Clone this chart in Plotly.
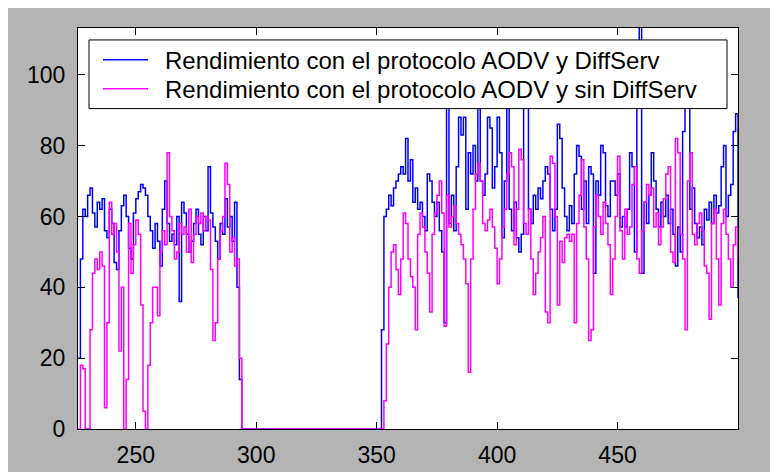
import plotly.graph_objects as go

x_start = 226
x_end = 500

aodv_diffserv = [
    20, 48, 62, 60, 66, 68, 61, 57, 64, 62, 65, 56, 54, 62, 58, 47, 45, 56, 63, 66,
    60, 51, 48, 61, 65, 67, 69, 68, 66, 60, 56, 51, 58, 53, 46, 62,
    70, 58, 53, 55, 52, 60, 36, 64, 61, 55, 50, 53, 58, 62, 55, 52, 60, 56, 74, 61,
    57, 53, 48, 58, 55, 65, 57, 60, 53, 64, 40, 14, 0,
    0, 0, 0, 0, 0, 0, 0, 0, 0, 0, 0, 0, 0, 0, 0, 0, 0, 0, 0, 0,
    0, 0, 0, 0, 0, 0, 0, 0, 0, 0, 0, 0, 0, 0, 0, 0, 0, 0, 0, 0,
    0, 0, 0, 0, 0, 0, 0, 0, 0, 0, 0, 0, 0, 0, 0, 0, 0,
    28, 60, 62, 66, 63, 68, 70, 72, 74, 72, 82, 70, 76, 64, 68, 62, 64, 60, 56, 72,
    70, 64, 60, 64, 56, 50, 30, 96, 58, 66, 56, 74, 88, 83, 88, 62,
    78, 72, 80, 70, 96, 70, 66, 72, 88, 85, 68, 74, 88, 78, 54, 70, 96, 62, 56, 64,
    54, 50, 55, 96, 94, 62, 58, 66, 62, 68, 65, 70, 74, 72, 62, 56, 62, 86,
    82, 68, 60, 56, 63, 58, 72, 80, 77, 62, 70, 58, 74, 72, 44, 70, 66, 80, 78, 63,
    60, 70, 70, 66, 72, 57, 60, 57, 62, 78, 74, 50, 96, 120, 44, 64, 58, 66, 78,
    70, 62, 57, 64, 60, 66, 58, 62, 55, 46, 57, 50, 84, 92, 97, 62, 68, 58, 54, 57,
    52, 62, 59, 64, 58, 66, 61, 63, 74, 80, 60, 66, 69, 84, 89, 37,
]

aodv_sin_diffserv = [
    0, 18, 17, 0, 0, 28, 44, 48, 45, 50, 46, 6, 30, 64, 55, 58, 50, 22, 40, 0,
    14, 58, 44, 52, 59, 55, 35, 5, 0, 18, 30, 40, 40, 32, 50, 56,
    52, 78, 60, 56, 48, 50, 58, 55, 57, 50, 62, 47, 55, 60, 58, 61, 56, 60, 59, 45,
    25, 30, 48, 56, 60, 75, 69, 50, 54, 46, 48, 20, 0,
    0, 0, 0, 0, 0, 0, 0, 0, 0, 0, 0, 0, 0, 0, 0, 0, 0, 0, 0, 0,
    0, 0, 0, 0, 0, 0, 0, 0, 0, 0, 0, 0, 0, 0, 0, 0, 0, 0, 0, 0,
    0, 0, 0, 0, 0, 0, 0, 0, 0, 0, 0, 0, 0, 0, 0, 0, 0,
    0, 8, 24, 40, 50, 52, 45, 38, 48, 61, 58, 48, 43, 40, 28, 55, 61, 57, 50, 44,
    33, 55, 61, 66, 70, 61, 29, 66, 57, 60, 63, 58, 55, 52, 48, 41,
    16, 48, 62, 72, 75, 70, 58, 56, 59, 62, 57, 51, 41, 48, 57, 62, 72, 78, 74, 52,
    62, 79, 76, 58, 55, 62, 48, 38, 44, 50, 54, 60, 33, 30, 77, 75, 60, 35, 53,
    47, 54, 55, 53, 55, 30, 58, 66, 76, 57, 48, 25, 28, 57, 66, 60, 55, 64, 58, 52,
    38, 48, 60, 77, 56, 48, 62, 55, 57, 69, 74, 48, 44, 56, 64, 69, 66, 68,
    57, 61, 52, 57, 65, 72, 74, 50, 47, 82, 78, 55, 48, 28, 70, 78, 55, 52, 58, 61,
    56, 46, 44, 31, 58, 62, 48, 35, 58, 62, 55, 48, 40, 52, 57, 48,
]

series_names = [
    "Rendimiento con el protocolo AODV y DiffServ",
    "Rendimiento con el protocolo AODV y sin DiffServ",
]
series_colors = ["#0000ff", "#ff00ff"]

x_ticks = [250, 300, 350, 400, 450]
y_ticks = [0, 20, 40, 60, 80, 100]

x_values = list(range(x_start, x_end + 1))

# the page places the figure 8px in from the top-left corner of the window
OFF = 8
W, H = 778, 472
L, R, T, B = 78 - OFF, W - (738 - OFF), 28 - OFF, H - (431 - OFF)
pw, ph = W - L - R, H - T - B


def px(xs):
    return (xs - OFF - L) / pw


def py(ys):
    return (H - B - (ys - OFF)) / ph


FONT = "Liberation Sans, Arial, sans-serif"

fig = go.Figure()
for name, vals, col in [
    (series_names[0], aodv_diffserv, series_colors[0]),
    (series_names[1], aodv_sin_diffserv, series_colors[1]),
]:
    fig.add_trace(go.Scatter(
        x=x_values, y=vals, mode="lines", name=name,
        line=dict(color=col, width=1.5, shape="hv"),
        showlegend=False,
    ))

shapes = [
    dict(type="rect", xref="paper", yref="paper", layer="above",
         x0=px(89), x1=px(727), y0=py(109), y1=py(40),
         fillcolor="white", line=dict(color="black", width=1)),
]
annotations = []
rows_y = [60, 89]
for i, (name, col) in enumerate(zip(series_names, series_colors)):
    shapes.append(dict(type="line", xref="paper", yref="paper", layer="above",
                       x0=px(103), x1=px(148), y0=py(rows_y[i]), y1=py(rows_y[i]),
                       line=dict(color=col, width=1.5)))
    annotations.append(dict(xref="paper", yref="paper", x=px(163), y=py(rows_y[i] + 1),
                            xanchor="left", yanchor="middle", showarrow=False,
                            text=name, font=dict(family=FONT, size=24, color="#000000")))

fig.update_layout(
    width=W, height=H,
    margin=dict(l=L, r=R, t=T, b=B, pad=0),
    paper_bgcolor="#b4b4b4",
    plot_bgcolor="white",
    showlegend=False,
    shapes=shapes,
    annotations=annotations,
    font=dict(family=FONT, size=23, color="#000000"),
    xaxis=dict(range=[x_start, x_end], tickvals=x_ticks, ticks="inside", ticklen=7,
               tickcolor="black", showline=True, linecolor="black", linewidth=1,
               mirror="ticks", showgrid=False, zeroline=False, ticklabelstandoff=5),
    yaxis=dict(range=[0, 113.2], tickvals=y_ticks, ticks="inside", ticklen=7,
               tickcolor="black", showline=True, linecolor="black", linewidth=1,
               mirror="ticks", showgrid=False, zeroline=False, ticklabelstandoff=7),
)

fig.write_html("out.html")
